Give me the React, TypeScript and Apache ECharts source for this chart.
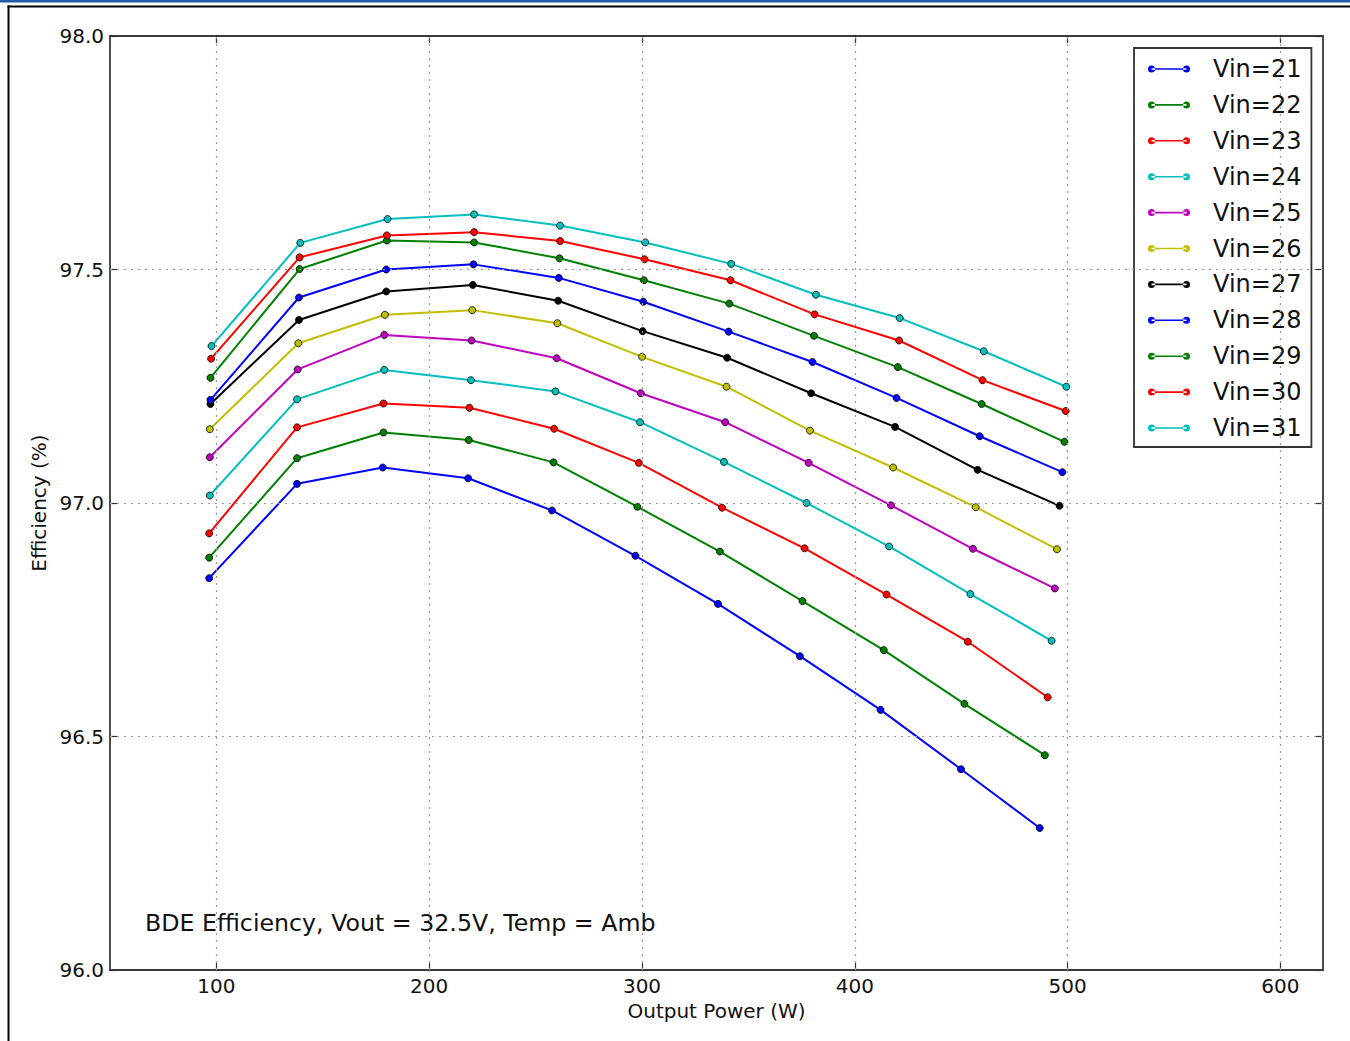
import React, { useEffect, useRef } from "react";
import * as echarts from "echarts";

// ---- Data ----
const seriesNames = ["Vin=21", "Vin=22", "Vin=23", "Vin=24", "Vin=25", "Vin=26", "Vin=27", "Vin=28", "Vin=29", "Vin=30", "Vin=31"];
const seriesColors = ["#0000ff", "#008000", "#ff0000", "#00bfbf", "#bf00bf", "#bfbf00", "#000000", "#0000ff", "#008000", "#ff0000", "#00bfbf"];

const vin21X = [96.6, 137.9, 178.2, 218.3, 257.7, 296.9, 335.7, 374.2, 412.1, 449.9, 486.9];
const vin21Y = [96.839, 97.041, 97.076, 97.053, 96.984, 96.887, 96.784, 96.672, 96.557, 96.43, 96.304];
const vin22X = [96.6, 137.9, 178.5, 218.6, 258.4, 297.8, 336.6, 375.4, 413.6, 451.5, 489.3];
const vin22Y = [96.883, 97.096, 97.151, 97.135, 97.087, 96.992, 96.896, 96.79, 96.685, 96.57, 96.46];
const vin23X = [96.6, 137.9, 178.5, 218.9, 258.7, 298.5, 337.6, 376.4, 414.9, 453.1, 490.6];
const vin23Y = [96.935, 97.162, 97.213, 97.204, 97.159, 97.086, 96.99, 96.903, 96.804, 96.703, 96.584];
const vin24X = [96.9, 137.9, 178.9, 219.6, 259.3, 299.1, 338.5, 377.3, 416.1, 454.3, 492.5];
const vin24Y = [97.016, 97.222, 97.285, 97.263, 97.239, 97.173, 97.088, 97.0, 96.907, 96.805, 96.705];
const vin25X = [96.9, 138.2, 178.9, 219.9, 259.9, 299.4, 339.1, 378.3, 417.0, 455.5, 494.0];
const vin25Y = [97.098, 97.286, 97.36, 97.348, 97.31, 97.235, 97.173, 97.086, 96.995, 96.902, 96.817];
const vin26X = [96.9, 138.5, 179.2, 220.2, 260.2, 300.0, 339.7, 378.9, 418.0, 456.8, 495.0];
const vin26Y = [97.158, 97.342, 97.403, 97.413, 97.385, 97.313, 97.249, 97.155, 97.076, 96.991, 96.901];
const vin27X = [97.2, 138.8, 179.8, 220.5, 260.6, 300.3, 340.0, 379.5, 418.9, 457.7, 496.2];
const vin27Y = [97.212, 97.392, 97.453, 97.467, 97.433, 97.368, 97.311, 97.235, 97.163, 97.071, 96.994];
const vin28X = [97.2, 138.8, 179.8, 220.8, 260.9, 300.6, 340.7, 380.1, 419.6, 458.7, 497.5];
const vin28Y = [97.221, 97.44, 97.5, 97.511, 97.482, 97.431, 97.367, 97.302, 97.225, 97.143, 97.066];
const vin29X = [97.2, 139.1, 180.1, 221.1, 261.2, 300.9, 341.0, 380.8, 420.2, 459.6, 498.5];
const vin29Y = [97.268, 97.501, 97.562, 97.558, 97.524, 97.477, 97.427, 97.358, 97.291, 97.212, 97.131];
const vin30X = [97.5, 139.1, 180.1, 221.1, 261.5, 301.2, 341.6, 381.1, 420.8, 460.0, 499.1];
const vin30Y = [97.309, 97.526, 97.573, 97.58, 97.561, 97.522, 97.477, 97.404, 97.348, 97.263, 97.197];
const vin31X = [97.7, 139.4, 180.4, 221.1, 261.5, 301.5, 341.9, 381.7, 421.1, 460.6, 499.4];
const vin31Y = [97.336, 97.557, 97.608, 97.618, 97.594, 97.558, 97.512, 97.446, 97.396, 97.325, 97.249];

const seriesX = [vin21X, vin22X, vin23X, vin24X, vin25X, vin26X, vin27X, vin28X, vin29X, vin30X, vin31X];
const seriesY = [vin21Y, vin22Y, vin23Y, vin24Y, vin25Y, vin26Y, vin27Y, vin28Y, vin29Y, vin30Y, vin31Y];

const xTickValues = [100, 200, 300, 400, 500, 600];
const xGridValues = [100, 200, 300, 400, 500, 600];
const yGridValues = [96.5, 97.0, 97.5];

const xTitle = "Output Power (W)";
const yTitle = "Efficiency (%)";
const annotation = "BDE Efficiency, Vout = 32.5V, Temp = Amb";

const FONT = "DejaVu Sans";

// legend icon: line with a marker at each end
const legendIcon =
  "path://M0,3.5 a3.5,3.5 0 1,0 7,0 a3.5,3.5 0 1,0 -7,0 Z M3.5,2.7 L38.5,2.7 L38.5,4.3 L3.5,4.3 Z M35,3.5 a3.5,3.5 0 1,0 7,0 a3.5,3.5 0 1,0 -7,0 Z";

export default function App() {
  const ref = useRef<HTMLDivElement>(null);

  useEffect(() => {
    if (!ref.current) return;
    const chart = echarts.init(ref.current, undefined, { renderer: "svg" });

    const gridLineStyle = { color: "#9a9a9a", width: 1.2, type: [2, 5] as any };

    const dataSeries = seriesNames.map((name, i) => ({
      name,
      type: "line",
      xAxisIndex: 0,
      yAxisIndex: 0,
      data: seriesX[i].map((x, j) => [x, seriesY[i][j]]),
      symbol: "circle",
      symbolSize: 7,
      showSymbol: true,
      z: 3,
      lineStyle: { color: seriesColors[i], width: 2 },
      itemStyle: { color: seriesColors[i], borderColor: "#000", borderWidth: 0.8 },
      emphasis: { disabled: true },
    }));

    const gridSeries = {
      name: "__grid",
      type: "line",
      xAxisIndex: 0,
      yAxisIndex: 0,
      data: [],
      z: 1,
      silent: true,
      markLine: {
        silent: true,
        symbol: ["none", "none"],
        label: { show: false },
        lineStyle: gridLineStyle,
        emphasis: { disabled: true },
        data: [
          ...xGridValues.map((v) => ({ xAxis: v })),
          ...yGridValues.map((v) => ({ yAxis: v })),
        ],
      },
    };

    const axisLineStyle = { color: "#3a3a3a", width: 1.8 };

    chart.setOption({
      animation: false,
      backgroundColor: "#ffffff",
      textStyle: { fontFamily: FONT },
      grid: { left: 110, right: 27, top: 36, bottom: 71, show: false },
      xAxis: [
        {
          type: "value",
          min: 50,
          max: 620,
          position: "bottom",
          name: xTitle,
          nameLocation: "middle",
          nameGap: 29,
          nameTextStyle: { fontFamily: FONT, fontSize: 20, color: "#111" },
          axisLine: { show: true, lineStyle: axisLineStyle },
          axisTick: { show: true, inside: true, length: 7, customValues: xTickValues, lineStyle: { color: "#333", width: 1.2 } },
          axisLabel: { show: true, customValues: xTickValues, margin: 6, fontFamily: FONT, fontSize: 20, color: "#111" },
          splitLine: { show: false },
        },
        {
          type: "value",
          min: 50,
          max: 620,
          position: "top",
          axisLine: { show: true, lineStyle: axisLineStyle },
          axisTick: { show: true, inside: true, length: 7, customValues: xTickValues, lineStyle: { color: "#333", width: 1.2 } },
          axisLabel: { show: false },
          splitLine: { show: false },
        },
      ],
      yAxis: [
        {
          type: "value",
          min: 96,
          max: 98,
          interval: 0.5,
          position: "left",
          name: yTitle,
          nameLocation: "middle",
          nameGap: 60,
          nameRotate: 90,
          nameTextStyle: { fontFamily: FONT, fontSize: 20, color: "#111" },
          axisLine: { show: true, lineStyle: axisLineStyle },
          axisTick: { show: true, inside: true, length: 7, lineStyle: { color: "#333", width: 1.2 } },
          axisLabel: {
            show: true,
            margin: 6,
            fontFamily: FONT,
            fontSize: 20,
            color: "#111",
            formatter: (v: number) => v.toFixed(1),
          },
          splitLine: { show: false },
        },
        {
          type: "value",
          min: 96,
          max: 98,
          interval: 0.5,
          position: "right",
          axisLine: { show: true, lineStyle: axisLineStyle },
          axisTick: { show: true, inside: true, length: 7, lineStyle: { color: "#333", width: 1.2 } },
          axisLabel: { show: false },
          splitLine: { show: false },
        },
      ],
      legend: {
        show: true,
        data: seriesNames,
        orient: "vertical",
        left: 1134,
        top: 48,
        padding: [9, 10, 7, 14],
        itemGap: 11.9,
        itemWidth: 42,
        itemHeight: 7,
        icon: legendIcon,
        itemStyle: { borderWidth: 0 },
        selectedMode: false,
        backgroundColor: "#ffffff",
        borderColor: "#333333",
        borderWidth: 1.8,
        textStyle: { fontFamily: FONT, fontSize: 24, lineHeight: 24, color: "#111", padding: [0, 0, 0, 18] },
      },
      graphic: [
        { type: "rect", shape: { x: 0, y: 0, width: 1350, height: 2.5 }, style: { fill: "#1f5ba6" }, silent: true },
        { type: "rect", shape: { x: 7.5, y: 5.5, width: 1342.5, height: 2 }, style: { fill: "#000" }, silent: true },
        { type: "rect", shape: { x: 7.5, y: 5.5, width: 2, height: 1036 }, style: { fill: "#000" }, silent: true },
        {
          type: "text",
          x: 145,
          y: 923,
          silent: true,
          style: { text: annotation, font: `23.7px "${FONT}"`, fill: "#111", verticalAlign: "middle", align: "left" },
        },
      ],
      series: [gridSeries, ...dataSeries],
    });

    return () => {
      chart.dispose();
    };
  }, []);

  return (
    <div
      ref={ref}
      style={{ position: "absolute", left: 0, top: 0, width: 1350, height: 1041, background: "#fff" }}
    />
  );
}
